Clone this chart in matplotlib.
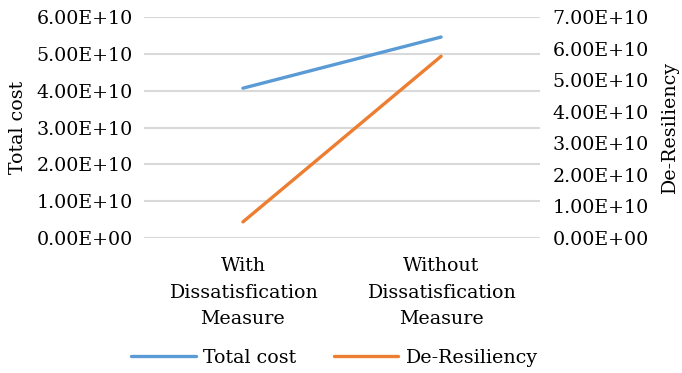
import numpy as np
import matplotlib.pyplot as plt

categories = ["With\nDissatisfication\nMeasure", "Without\nDissatisfication\nMeasure"]
total_cost = [4.07e10, 5.46e10]
de_resiliency = [0.51e10, 5.76e10]

left_ticks = np.arange(0, 6.01e10, 1e10)
right_ticks = np.arange(0, 7.01e10, 1e10)

plt.rcParams['font.family'] = ['DejaVu Serif']
plt.rcParams['font.size'] = 13.7

blue = '#5B9BD5'
orange = '#ED7D31'
grid_c = '#D9D9D9'

fig = plt.figure(figsize=(6.82, 3.73), dpi=100)
ax = fig.add_axes([0.211, 0.362, 0.581, 0.592])
ax2 = ax.twinx()

x = np.arange(len(categories))
l1, = ax.plot(x, total_cost, color=blue, lw=2.4, solid_capstyle='round', label="Total cost")
l2, = ax2.plot(x, de_resiliency, color=orange, lw=2.4, solid_capstyle='round', label="De-Resiliency")

ax.set_xlim(-0.5, 1.5)
ax.set_ylim(0, 6e10)
ax2.set_ylim(0, 7e10)
ax.set_yticks(left_ticks)
ax2.set_yticks(right_ticks)
ax.set_yticklabels([f"{v / 1e10:.2f}E+{'10' if v else '00'}" for v in left_ticks])
ax2.set_yticklabels([f"{v / 1e10:.2f}E+{'10' if v else '00'}" for v in right_ticks])
ax.set_xticks(x)
ax.set_xticklabels(categories, linespacing=1.6)

for v in left_ticks:
    ax.axhline(v, color=grid_c, lw=1.5, zorder=0)

for a in (ax, ax2):
    for s in a.spines.values():
        s.set_visible(False)
    a.tick_params(length=0)
ax.tick_params(axis='y', pad=8)
ax2.tick_params(axis='y', pad=9)
ax.tick_params(axis='x', pad=14)

ax.set_ylabel("Total cost", labelpad=7)
ax2.set_ylabel("De-Resiliency", labelpad=9)

fig.legend(handles=[l1, l2], loc='center', bbox_to_anchor=(0.49, 0.04), ncol=2,
           frameon=False, handlelength=3.4, columnspacing=2.0, handletextpad=0.35)

fig.savefig("out.png", dpi=100)
